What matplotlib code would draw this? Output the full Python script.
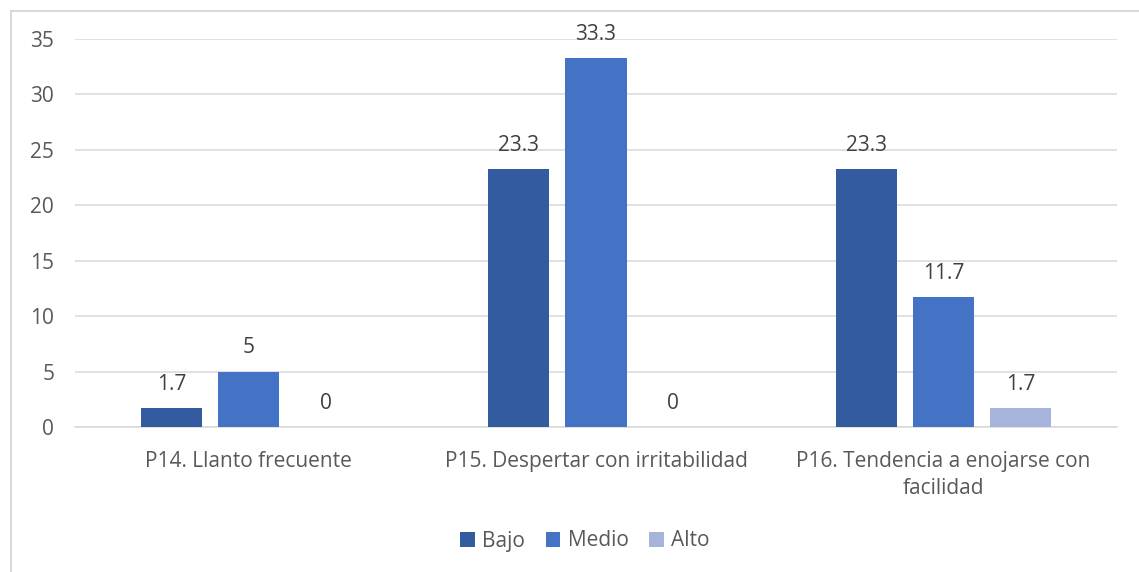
import matplotlib
matplotlib.use("Agg")
import matplotlib.pyplot as plt
import numpy as np
from matplotlib.lines import Line2D

plt.rcParams['font.family'] = ['Open Sans', 'DejaVu Sans']

categories = ["P14. Llanto frecuente",
              "P15. Despertar con irritabilidad",
              "P16. Tendencia a enojarse con\nfacilidad"]
series_names = ["Bajo", "Medio", "Alto"]
bajo = [1.7, 23.3, 23.3]
medio = [5, 33.3, 11.7]
alto = [0, 0, 1.7]
colors = ["#335b9f", "#4472c4", "#a6b4db"]
yticks = [0, 5, 10, 15, 20, 25, 30, 35]

text_color = "#595959"
grid_color = "#d9d9d9"
fs = 15
W, H = 1139, 572

fig = plt.figure(figsize=(W / 100, H / 100), dpi=100)
ax = fig.add_axes([75 / W, 145 / H, 1042 / W, 388 / H])

# chart border (top and left edges fall inside the canvas)
fig.add_artist(Line2D([10.5 / W, 1.0], [1 - 10.5 / H, 1 - 10.5 / H],
                      transform=fig.transFigure, color=grid_color, linewidth=1.5))
fig.add_artist(Line2D([10.5 / W, 10.5 / W], [0, 1 - 10.5 / H],
                      transform=fig.transFigure, color=grid_color, linewidth=1.5))

x = np.arange(len(categories))
width = 0.176
pitch = 0.222
for i, (name, vals) in enumerate(zip(series_names, [bajo, medio, alto])):
    pos = x + (i - 1) * pitch
    bars = ax.bar(pos, vals, width=width, color=colors[i], label=name, zorder=3)
    for b, v in zip(bars, vals):
        ax.annotate(f"{v:g}", (b.get_x() + b.get_width() / 2, v),
                    xytext=(0, 9.5), textcoords="offset points",
                    ha="center", va="bottom", fontsize=fs, color="#404040")

ax.set_xlim(-0.5, 2.5)
ax.set_ylim(0, 35)
ax.set_yticks(yticks)
ax.set_xticks(x)
ax.set_xticklabels(categories, fontsize=fs, color=text_color, linespacing=1.4)
ax.tick_params(axis='y', length=0, pad=15, labelsize=fs, labelcolor=text_color)
ax.tick_params(axis='x', length=0, pad=17)
ax.grid(axis='y', color=grid_color, linewidth=1.1, zorder=0)
for s in ["top", "right", "left"]:
    ax.spines[s].set_visible(False)
ax.spines["bottom"].set_color(grid_color)
ax.spines["bottom"].set_linewidth(1.1)

fig.legend(loc="center", bbox_to_anchor=(585 / W, 31 / H), ncol=3,
           frameon=False, fontsize=fs, labelcolor=text_color,
           handlelength=0.7, handleheight=0.7, handletextpad=0.35,
           columnspacing=1.0)

fig.savefig("out.png", dpi=100)
